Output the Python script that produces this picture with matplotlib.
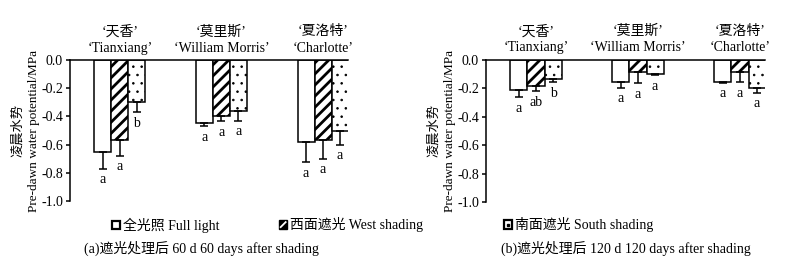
import matplotlib
matplotlib.use('Agg')
import matplotlib.pyplot as plt
from matplotlib.patches import Patch, Rectangle
from matplotlib.lines import Line2D
from matplotlib.legend_handler import HandlerBase
import numpy as np

plt.rcParams['font.family'] = ['Liberation Serif', 'Noto Sans CJK SC']
plt.rcParams['axes.unicode_minus'] = False
plt.rcParams['hatch.color'] = 'black'

cultivars_cn = ['‘天香’', '‘莫里斯’', '‘夏洛特’']
cultivars_en = ['‘Tianxiang’', '‘William Morris’', '‘Charlotte’']
treatments = ['全光照 Full light', '西面遮光 West shading', '南面遮光 South shading']
yticks = [0.0, -0.2, -0.4, -0.6, -0.8, -1.0]
captions = ['(a)遮光处理后 60 d 60 days after shading',
            '(b)遮光处理后 120 d 120 days after shading']

# (a) 60 days after shading
a_full = [-0.65, -0.45, -0.585]
a_west = [-0.565, -0.40, -0.57]
a_south = [-0.30, -0.36, -0.50]
a_full_err = [0.12, 0.02, 0.14]
a_west_err = [0.115, 0.035, 0.13]
a_south_err = [0.07, 0.07, 0.10]
a_full_sig = ['a', 'a', 'a']
a_west_sig = ['a', 'a', 'a']
a_south_sig = ['b', 'a', 'a']

# (b) 120 days after shading
b_full = [-0.21, -0.155, -0.155]
b_west = [-0.185, -0.083, -0.083]
b_south = [-0.135, -0.10, -0.195]
b_full_err = [0.05, 0.04, 0.005]
b_west_err = [0.035, 0.08, 0.075]
b_south_err = [0.02, 0.005, 0.035]
b_full_sig = ['a', 'a', 'a']
b_west_sig = ['ab', 'a', 'a']
b_south_sig = ['b', 'a', 'a']

panels = [
    ([a_full, a_west, a_south], [a_full_err, a_west_err, a_south_err],
     [a_full_sig, a_west_sig, a_south_sig]),
    ([b_full, b_west, b_south], [b_full_err, b_west_err, b_south_err],
     [b_full_sig, b_west_sig, b_south_sig]),
]

hatches = ['', '///', '..']
hatch_lw = [1.0, 2.0, 0.6]
FS = 10


class BoxHandler(HandlerBase):
    def __init__(self, kind):
        super().__init__()
        self.kind = kind

    def create_artists(self, legend, orig_handle, xdescent, ydescent, width,
                       height, fontsize, trans):
        s = min(width, height)
        x0 = -xdescent + (width - s) / 2
        y0 = -ydescent + (height - s) / 2
        arts = []
        if self.kind == 1:
            arts.append(Rectangle((x0, y0), s, s, facecolor='black',
                                  edgecolor='black', linewidth=1.0, transform=trans))
            arts.append(Line2D([x0 + 0.2 * s, x0 + 0.8 * s], [y0 + 0.2 * s, y0 + 0.8 * s],
                               color='white', linewidth=1.3, transform=trans))
        else:
            arts.append(Rectangle((x0, y0), s, s, facecolor='white',
                                  edgecolor='black', linewidth=1.6, transform=trans))
            if self.kind == 2:
                arts.append(Line2D([x0 + s / 2], [y0 + s / 2], marker='s', markersize=1.5,
                                   color='black', linestyle='none', transform=trans))
        return arts


fig = plt.figure(figsize=(7.92, 2.61), dpi=100)
ax_pos = [[70/792, 1-201/261, 278/792, 141/261],
          [486/792, 1-202/261, 279/792, 142/261]]

w = 0.167
x = np.arange(len(cultivars_en))
offsets = [-w, 0, w]

for p, (vals, errs, sigs) in enumerate(panels):
    ax = fig.add_axes(ax_pos[p])
    for k in range(3):
        xs = x + offsets[k]
        bars = ax.bar(xs, vals[k], width=w, facecolor='white', edgecolor='black',
                      linewidth=1.1, hatch=hatches[k], zorder=2)
        for b in bars:
            if hasattr(b, 'set_hatch_linewidth'):
                b.set_hatch_linewidth(hatch_lw[k])
        lo = np.array(errs[k])
        ax.errorbar(xs, vals[k], yerr=[lo, np.zeros_like(lo)], fmt='none',
                    ecolor='black', elinewidth=1.1, capsize=3, capthick=1.1, zorder=3)
        for xi, v, e, s in zip(xs, vals[k], errs[k], sigs[k]):
            ax.annotate(s, (xi, v - e), xytext=(0, -8), textcoords='offset points',
                        ha='center', va='center', fontsize=FS)
    ax.set_xlim(-0.49, 2.245)
    ax.set_ylim(-1.0, 0.0)
    ax.set_yticks(yticks)
    ax.set_yticklabels([f'{t:.1f}' for t in yticks], fontsize=FS)
    ax.set_xticks([])
    ax.spines['right'].set_visible(False)
    ax.spines['bottom'].set_visible(False)
    ax.spines['left'].set_linewidth(1.1)
    ax.spines['top'].set_linewidth(1.1)
    ax.tick_params(axis='y', direction='out', length=3, width=1.1, pad=2)
    for i in range(3):
        ax.text(x[i], 1.20, cultivars_cn[i], transform=ax.get_xaxis_transform(),
                ha='center', va='center', fontsize=FS)
        ax.text(x[i], 1.085, cultivars_en[i], transform=ax.get_xaxis_transform(),
                ha='center', va='center', fontsize=FS)
    ax.set_ylabel('凌晨水势\nPre-dawn water potential/MPa', fontsize=9.5, labelpad=1,
                  linespacing=1.4)
    cx = ax_pos[p][0] + ax_pos[p][2] / 2
    fig.text(cx - (0.009 if p == 0 else 0), 1 - 248/261, captions[p], ha='center',
             va='center', fontsize=FS)

leg_x = [112/792, 279/792, 504/792]
for k, (lab, lx) in enumerate(zip(treatments, leg_x)):
    h = Patch(facecolor='white', edgecolor='black')
    fig.legend([h], [lab], loc='center left', bbox_to_anchor=(lx, 1 - 225/261),
               frameon=False, fontsize=FS, handlelength=0.6, handleheight=0.6,
               handletextpad=0.2, borderpad=0, borderaxespad=0,
               handler_map={h: BoxHandler(k)})

fig.savefig('out.png', dpi=100)
